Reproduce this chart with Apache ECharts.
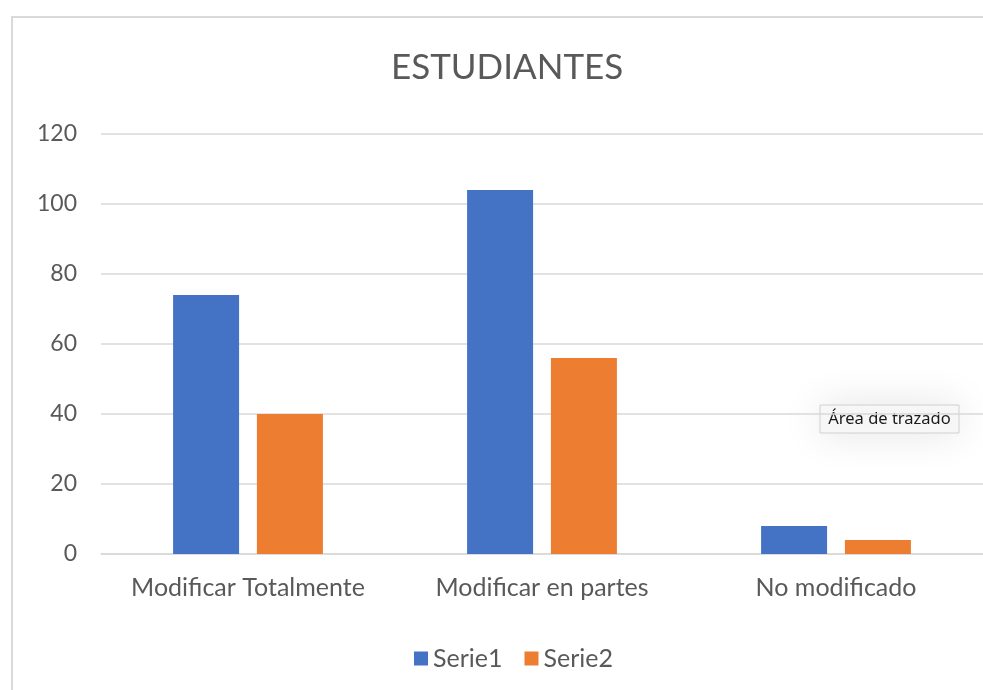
<!DOCTYPE html>
<html>
<head>
<meta charset="utf-8">
<script src="https://cdn.jsdelivr.net/npm/echarts@6/dist/echarts.min.js"></script>
<style>
html,body{margin:0;padding:0;background:#fff;}
#chart{width:983px;height:690px;}
</style>
</head>
<body>
<div id="chart"></div>
<script>
const categories = ['Modificar Totalmente', 'Modificar en partes', 'No modificado'];
const serie1 = [74, 104, 8];
const serie2 = [40, 56, 4];
const seriesNames = ['Serie1', 'Serie2'];
const yTicks = { min: 0, max: 120, interval: 20 };

const FONT = 'Lato';
const chart = echarts.init(document.getElementById('chart'), null, { renderer: 'canvas' });
chart.setOption({
  backgroundColor: '#ffffff',
  animation: false,
  title: {
    text: 'ESTUDIANTES',
    left: 386,
    top: 45,
    textStyle: { fontFamily: FONT, fontSize: 35, fontWeight: 'normal', color: '#595959' }
  },
  legend: {
    data: seriesNames,
    left: 409,
    top: 641,
    icon: 'rect',
    itemWidth: 14,
    itemHeight: 14,
    itemGap: 22,
    textStyle: { fontFamily: FONT, fontSize: 25, color: '#595959' }
  },
  grid: { left: 101, right: 0, top: 134, bottom: 136, containLabel: false },
  xAxis: {
    type: 'category',
    data: categories,
    axisLine: { show: true, lineStyle: { color: '#d9d9d9', width: 1.5 } },
    axisTick: { show: false },
    axisLabel: { interval: 0, fontFamily: FONT, fontSize: 25, color: '#595959', margin: 21 }
  },
  yAxis: {
    type: 'value',
    min: yTicks.min,
    max: yTicks.max,
    interval: yTicks.interval,
    axisLine: { show: false },
    axisTick: { show: false },
    axisLabel: { fontFamily: FONT, fontSize: 23, color: '#595959', margin: 24 },
    splitLine: { lineStyle: { color: '#d9d9d9', width: 1.5 } }
  },
  series: [
    { name: seriesNames[0], type: 'bar', data: serie1, barWidth: 66, barGap: '27%', itemStyle: { color: '#4472C4' } },
    { name: seriesNames[1], type: 'bar', data: serie2, barWidth: 66, barGap: '27%', itemStyle: { color: '#ED7D31' } }
  ],
  graphic: [
    {
      type: 'rect',
      shape: { x: 12, y: 17, width: 1000, height: 700 },
      style: { fill: 'none', stroke: '#d9d9d9', lineWidth: 2 },
      silent: true
    },
    {
      type: 'rect',
      shape: { x: 820, y: 405, width: 139, height: 28 },
      style: { fill: '#f7f7f7', stroke: '#d0d0d0', lineWidth: 1, shadowBlur: 40, shadowColor: 'rgba(0,0,0,0.12)' },
      silent: true
    },
    {
      type: 'text',
      x: 889.5,
      y: 419,
      style: { text: 'Área de trazado', font: '16.5px "Noto Sans"', fill: '#1a1a1a', align: 'center', verticalAlign: 'middle' },
      silent: true
    }
  ]
});
</script>
</body>
</html>
